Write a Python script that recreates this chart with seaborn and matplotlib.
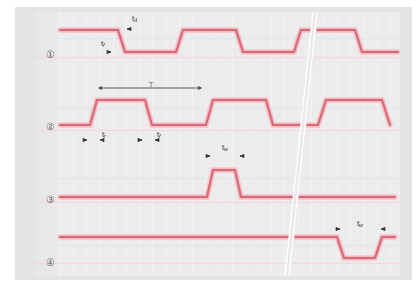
import numpy as np
import pandas as pd
import seaborn as sns
import matplotlib.pyplot as plt
from matplotlib.patches import Rectangle

# edge times (drawing units) and logic levels for the four traces
sig1_t = [60, 118, 125, 176, 183, 236, 243, 294, 301, 355, 362, 398]
sig1_v = [1, 1, 0, 0, 1, 1, 0, 0, 1, 1, 0, 0]
sig2_t = [60, 90, 97, 145, 152, 206, 213, 266, 273, 318, 326, 382, 390]
sig2_v = [0, 0, 1, 1, 0, 0, 1, 1, 0, 0, 1, 1, 0]
sig3_t = [60, 207, 213, 235, 241, 395]
sig3_v = [0, 0, 1, 1, 0, 0]
sig4_t = [60, 337, 344, 375, 382, 395]
sig4_v = [1, 1, 0, 0, 1, 1]

# row baselines: (high, low) screen rows
rows = {"1": (30, 52), "2": (100, 125), "3": (170, 197), "4": (237, 258)}
row_labels = ["①", "②", "③", "④"]
label_y = [55, 127, 200, 263]

frames = []
for name, t, v in [("1", sig1_t, sig1_v), ("2", sig2_t, sig2_v),
                   ("3", sig3_t, sig3_v), ("4", sig4_t, sig4_v)]:
    hi, lo = rows[name]
    y = [hi if s else lo for s in v]
    frames.append(pd.DataFrame({"t": t, "y": y, "sig": name}))
df = pd.concat(frames, ignore_index=True)

sns.set_theme(style="white")
plt.rcParams['font.family'] = ['DejaVu Sans', 'Noto Sans CJK JP']

fig = plt.figure(figsize=(4.18, 2.87), dpi=100)
fig.patch.set_facecolor("white")
fig.patches.append(Rectangle((15 / 418, 1 - 280 / 287), 397 / 418, 273 / 287,
                             transform=fig.transFigure, facecolor="#e4e4e4",
                             edgecolor="none", zorder=-5))

ax = fig.add_axes([35 / 418, 1 - 276 / 287, 365 / 418, 264 / 287])
ax.set_zorder(1)
ax.set_facecolor("#e8e8e8")
ax.axvspan(57, 400, color="#ececec", lw=0, zorder=0)

# faint timing grid
ax.set_xticks(np.arange(60, 400, 13.2))
ax.grid(axis="x", color="#f3f3f3", lw=0.7)
ax.set_yticks([])
for hi, lo in rows.values():
    ax.axhline(hi + 8, color="#e1e7ee", lw=1.0, zorder=1)
    ax.axhline(lo + 5, color="#f0dadf", lw=1.0, zorder=1)
ax.tick_params(length=0, labelbottom=False, labelleft=False)
for s in ax.spines.values():
    s.set_visible(False)

# halo + trace
for name, g in df.groupby("sig"):
    ax.plot(g["t"], g["y"], color="#f4c4ca", lw=4.0, zorder=2, solid_joinstyle="miter")
sns.lineplot(data=df, x="t", y="y", units="sig", estimator=None, sort=False,
             color="#d86a78", lw=1.6, ax=ax, zorder=3)
ax.set_xlabel("")
ax.set_ylabel("")
ax.set_xlim(35, 400)
ax.set_ylim(276, 12)

# row labels
for lab, yy in zip(row_labels, label_y):
    fig.text(50 / 418, 1 - yy / 287, lab, fontsize=7, color="#666666",
             ha="center", va="center")

# annotations
mk = dict(color="#333333", fontsize=5, ha="center", va="center")
def tick_arrow(x, y, direction):
    ax.annotate("", xy=(x, y), xytext=(x - 7 * direction, y),
                arrowprops=dict(arrowstyle="-|>", color="#333333", lw=0.8,
                                mutation_scale=5), zorder=5)

tick_arrow(124, 29, -1)
ax.text(135, 20, "t$_d$", **mk)
tick_arrow(114, 52, 1)
ax.text(104, 45, "t$_f$", **mk)

ax.annotate("", xy=(95, 88), xytext=(205, 88),
            arrowprops=dict(arrowstyle="<|-|>", color="#555555", lw=0.7,
                            mutation_scale=5), zorder=5)
ax.text(150, 85, "T", color="#666666", fontsize=5, ha="center", va="center")

for x0, x1, lab in [(90, 97, "t$_r$"), (145, 152, "t$_f$")]:
    tick_arrow(x0, 140, 1)
    tick_arrow(x1, 140, -1)
    ax.text(x1 + 8, 136, lab, **mk)

tick_arrow(213, 156, 1)
tick_arrow(237, 156, -1)
ax.text(225, 149, "t$_w$", **mk)

tick_arrow(343, 229, 1)
tick_arrow(378, 229, -1)
ax.text(360, 225, "t$_w$", **mk)

# time-axis break
ax.fill_betweenx([12, 276], [313, 285], [317, 289], color="#e9e9e9", zorder=5)
for a, b in [(313, 285), (317, 289)]:
    ax.plot([a, b], [12, 276], color="white", lw=1.0, zorder=6)

fig.savefig("out.png", dpi=100, facecolor="white")
